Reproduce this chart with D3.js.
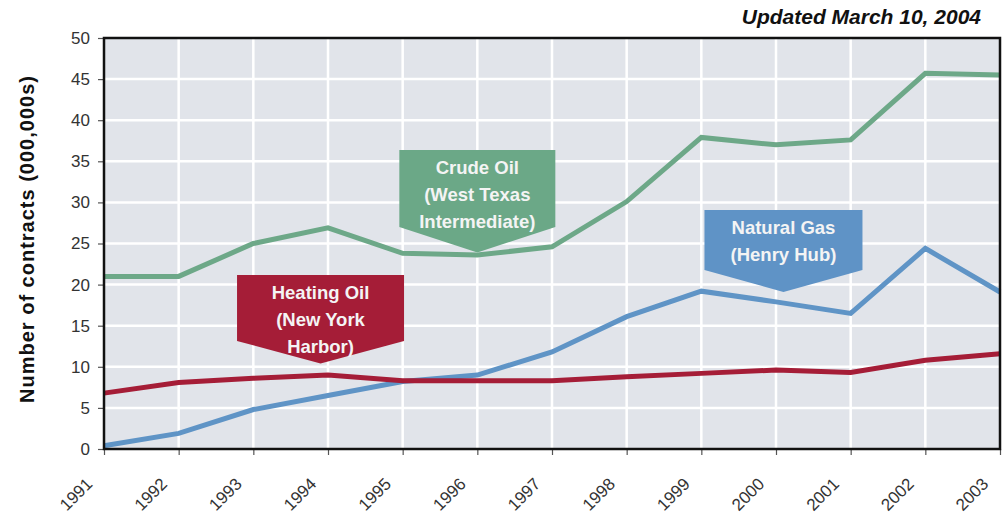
<!DOCTYPE html>
<html><head><meta charset="utf-8">
<script src="https://cdn.jsdelivr.net/npm/d3@7"></script>
<style>body{margin:0;background:#fff}svg{display:block}text{font-family:Arial,"Liberation Sans",sans-serif}</style>
</head><body>
<svg id="c" width="1004" height="515"></svg>
<script>
const years = [1991,1992,1993,1994,1995,1996,1997,1998,1999,2000,2001,2002,2003];
const crudeOil = [21.0,21.0,25.0,26.9,23.8,23.6,24.6,30.1,37.9,37.0,37.6,45.7,45.5];
const naturalGas = [0.4,1.9,4.8,6.5,8.2,9.0,11.8,16.1,19.2,17.9,16.5,24.4,19.1];
const heatingOil = [6.8,8.1,8.6,9.0,8.3,8.3,8.3,8.8,9.2,9.6,9.3,10.8,11.6];
const yTicks = [0,5,10,15,20,25,30,35,40,45,50];
const seriesNames = ["Crude Oil","Natural Gas","Heating Oil"];
const calloutLines = [["Crude Oil","(West Texas","Intermediate)"],["Natural Gas","(Henry Hub)"],["Heating Oil","(New York","Harbor)"]];
const calloutYears = [1996,2000.1,1993.9];
const calloutValues = [23.9,19.1,10.4];

const colors = ["#6da888","#5f94c6","#a51d37"];
const boxColors = ["#6ba887","#5f93c6","#a51d37"];

const svg = d3.select("#c");
const M = {l:104, r:1000, t:38, b:449};
const x = d3.scaleLinear().domain([1991,2003]).range([M.l, M.r]);
const y = d3.scaleLinear().domain([0,50]).range([M.b, M.t]);

svg.append("rect").attr("x",M.l).attr("y",M.t).attr("width",M.r-M.l).attr("height",M.b-M.t).attr("fill","#e1e4ea");
// grid
svg.append("g").selectAll("line").data(yTicks.slice(1,-1)).join("line")
  .attr("x1",M.l).attr("x2",M.r).attr("y1",d=>y(d)).attr("y2",d=>y(d)).attr("stroke","#fff").attr("stroke-width",2.5);
svg.append("g").selectAll("line").data(years.slice(1,-1)).join("line")
  .attr("y1",M.t).attr("y2",M.b).attr("x1",d=>x(d)).attr("x2",d=>x(d)).attr("stroke","#fff").attr("stroke-width",2.5);

// axes
const yAxis = d3.axisLeft(y).tickValues(yTicks).tickSize(6).tickPadding(8);
const gy = svg.append("g").attr("transform",`translate(${M.l},0)`).call(yAxis);
gy.select(".domain").remove();
gy.selectAll("line").attr("stroke","#555").attr("stroke-width",1.2);
gy.selectAll("text").attr("font-size",17).attr("fill","#333");

const xAxis = d3.axisBottom(x).tickValues(years).tickFormat(d3.format("d")).tickSize(6);
const gx = svg.append("g").attr("transform",`translate(0,${M.b})`).call(xAxis);
gx.select(".domain").remove();
gx.selectAll("line").attr("stroke","#555").attr("stroke-width",1.2);
gx.selectAll("text").attr("font-size",17).attr("fill","#333")
  .attr("text-anchor","end").attr("dy",0).attr("y",0)
  .attr("transform","translate(-11,36) rotate(-45)");

// lines
const line = d3.line().x((d,i)=>x(years[i])).y(d=>y(d));
const data = [crudeOil, naturalGas, heatingOil];
svg.append("g").selectAll("path").data(data).join("path")
  .attr("d",line).attr("fill","none").attr("stroke",(d,i)=>colors[i])
  .attr("stroke-width",5).attr("stroke-linejoin","miter");

// frame
svg.append("rect").attr("x",M.l).attr("y",M.t).attr("width",M.r-M.l).attr("height",M.b-M.t)
  .attr("fill","none").attr("stroke","#111").attr("stroke-width",2.5);

// callouts
const boxW = [156,158,167];
const boxTop = [150,210,275];
const sideH = [77,60,66];
calloutLines.forEach((lines,i)=>{
  const px = x(calloutYears[i]), py = y(calloutValues[i]);
  const cx = px; 
  const w = boxW[i], l = cx - w/2, r = cx + w/2, t = boxTop[i], s = t + sideH[i];
  svg.append("path").attr("d",`M${l},${t}H${r}V${s}L${px},${py}L${l},${s}Z`).attr("fill",boxColors[i]);
  const g = svg.append("text").attr("text-anchor","middle").attr("fill","#f4f4f4").attr("font-weight","bold").attr("font-size",18.5);
  lines.forEach((ln,k)=>{
    g.append("tspan").attr("x",cx).attr("y",t+24+k*27).text(ln);
  });
});

// y-axis title
svg.append("text").attr("transform",`translate(34,239) rotate(-90)`)
  .attr("text-anchor","middle").attr("font-weight","bold").attr("font-size",20).attr("letter-spacing",1)
  .attr("fill","#111")
  .text("Number of contracts (000,000s)");

// updated note
svg.append("text").attr("x",981).attr("y",24).attr("text-anchor","end")
  .attr("font-weight","bold").attr("font-style","italic").attr("font-size",21).attr("fill","#111")
  .text("Updated March 10, 2004");
</script>
</body></html>
